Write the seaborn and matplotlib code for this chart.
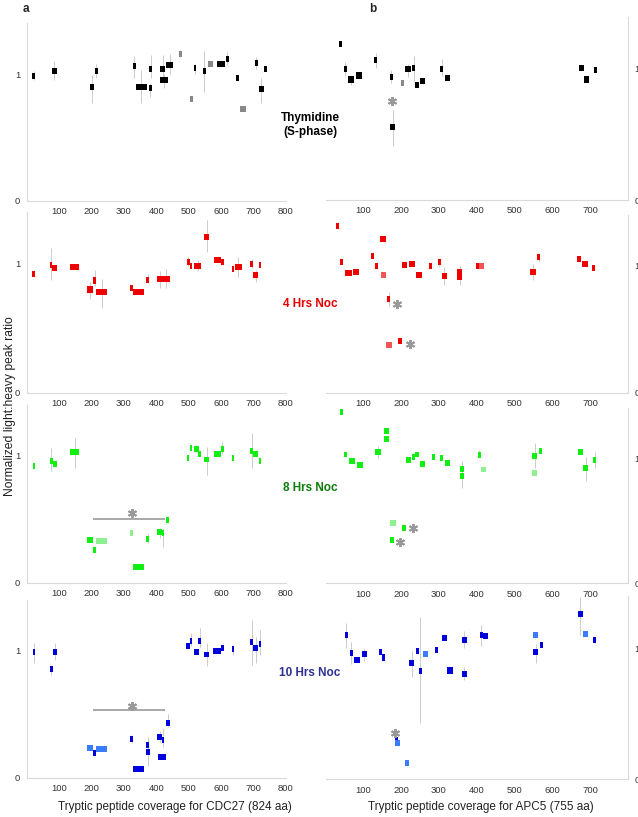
import pandas as pd
import seaborn as sns
import matplotlib.pyplot as plt

sns.set_theme(style="white")
plt.rcParams["font.family"] = ["Liberation Sans", "DejaVu Sans"]

# peptides: (start, end, ratio, err_low, err_high, light)
cdc27_thy = [
    (18, 27, 0.984, 0.95, 1.02, 0), (77, 95, 1.02, 0.95, 1.10, 0), (194, 209, 0.90, 0.77, 0.99, 0),
    (211, 220, 1.02, 0.97, 1.08, 0), (327, 336, 1.06, 0.97, 1.14, 0), (337, 370, 0.90, 0.77, 1.03, 0),
    (378, 387, 1.04, 0.97, 1.15, 0), (376, 388, 0.89, 0.82, 0.93, 0), (411, 428, 1.04, 0.94, 1.15, 0),
    (412, 437, 0.95, 0.89, 1.00, 0), (430, 452, 1.07, 1.00, 1.16, 0), (469, 478, 1.16, 1.13, 1.19, 1),
    (515, 523, 1.05, 1.00, 1.08, 0), (544, 552, 1.02, 0.86, 1.18, 0), (505, 514, 0.80, None, None, 1),
    (560, 576, 1.08, None, None, 1), (588, 613, 1.08, None, None, 0), (615, 623, 1.115, 1.07, 1.17, 0),
    (646, 654, 0.966, None, None, 0), (658, 678, 0.727, None, None, 1), (705, 713, 1.085, 1.04, 1.13, 0),
    (716, 731, 0.88, 0.77, 0.97, 0), (732, 740, 1.04, None, None, 0),
]
apc5_thy = [
    (36, 44, 1.19, None, None, 0), (48, 56, 1.00, 0.95, 1.05, 0), (59, 76, 0.92, 0.88, 0.95, 0),
    (81, 97, 0.95, None, None, 0), (129, 137, 1.07, 1.01, 1.12, 0), (170, 178, 0.94, 0.89, 0.99, 0),
    (211, 225, 1.00, 0.94, 1.04, 0), (230, 238, 1.01, 0.90, 1.10, 0), (200, 208, 0.895, None, None, 1),
    (238, 246, 0.88, None, None, 0), (249, 263, 0.91, None, None, 0), (304, 312, 1.00, 0.95, 1.08, 0),
    (315, 330, 0.93, None, None, 0), (170, 185, 0.556, 0.41, 0.69, 0), (670, 683, 1.01, None, None, 0),
    (683, 698, 0.92, None, None, 0), (711, 719, 0.99, None, None, 0),
]
cdc27_4h = [
    (18, 27, 0.918, None, None, 0), (71, 79, 0.99, 0.87, 1.12, 0), (79, 94, 0.966, None, None, 0),
    (134, 163, 0.977, None, None, 0), (187, 204, 0.80, 0.73, 0.86, 0), (206, 214, 0.87, 0.83, 0.95, 0),
    (215, 247, 0.78, 0.66, 0.88, 0), (320, 328, 0.81, None, None, 0), (329, 363, 0.78, None, None, 0),
    (369, 377, 0.876, 0.85, 0.92, 0), (403, 420, 0.88, 0.81, 0.94, 0), (420, 442, 0.88, 0.81, 0.96, 0),
    (495, 503, 1.01, 0.98, 1.05, 0), (503, 511, 0.98, None, None, 0), (516, 539, 0.98, 0.94, 1.03, 0),
    (548, 563, 1.21, 1.09, 1.34, 0), (577, 601, 1.03, None, None, 0), (600, 608, 1.01, None, None, 0),
    (633, 641, 0.96, None, None, 0), (643, 664, 0.974, 0.90, 1.05, 0), (690, 698, 1.00, 0.97, 1.04, 0),
    (699, 714, 0.91, 0.86, 0.95, 0), (716, 724, 0.99, None, None, 0),
]
apc5_4h = [
    (28, 36, 1.316, None, None, 0), (39, 47, 1.03, None, None, 0), (52, 70, 0.94, None, None, 0),
    (73, 89, 0.95, None, None, 0), (121, 129, 1.08, None, None, 0), (130, 138, 0.995, None, None, 0),
    (145, 160, 1.21, None, None, 0), (147, 161, 0.93, None, None, 1), (163, 171, 0.734, 0.68, 0.79, 0),
    (203, 216, 1.005, None, None, 0), (222, 238, 1.01, None, None, 0), (240, 256, 0.93, None, None, 0),
    (274, 282, 1.00, None, None, 0), (297, 305, 1.03, 1.00, 1.06, 0), (308, 321, 0.92, 0.85, 0.99, 0),
    (349, 360, 0.95, 0.85, 1.00, 0), (349, 360, 0.91, None, None, 0), (397, 405, 1.00, None, None, 0),
    (405, 420, 0.995, None, None, 1), (542, 556, 0.95, 0.89, 1.01, 0), (560, 568, 1.07, 1.03, 1.10, 0),
    (665, 677, 1.05, None, None, 0), (679, 693, 1.01, None, None, 0), (706, 714, 0.98, None, None, 0),
    (191, 201, 0.41, None, None, 0), (161, 177, 0.376, None, None, 1),
]
cdc27_8h = [
    (19, 27, 0.92, None, None, 0), (72, 80, 0.96, 0.88, 1.06, 0), (82, 94, 0.937, None, None, 0),
    (134, 163, 1.03, 0.90, 1.14, 0), (187, 204, 0.337, None, None, 0), (206, 214, 0.255, None, None, 0),
    (215, 247, 0.326, None, None, 1), (320, 328, 0.39, None, None, 1), (329, 363, 0.126, None, None, 0),
    (369, 377, 0.345, 0.31, 0.38, 0), (402, 418, 0.40, 0.35, 0.43, 0), (417, 425, 0.39, 0.28, 0.43, 0),
    (430, 438, 0.49, None, None, 0), (494, 502, 0.98, None, None, 0), (503, 511, 1.06, None, None, 0),
    (516, 531, 1.05, None, None, 0), (530, 538, 1.01, None, None, 0), (548, 563, 0.97, 0.85, 1.07, 0),
    (577, 598, 1.016, None, None, 0), (600, 608, 1.055, 1.01, 1.11, 0), (633, 641, 0.984, None, None, 0),
    (690, 698, 1.04, 0.90, 1.18, 0), (699, 714, 1.016, None, None, 0), (716, 724, 0.96, None, None, 0),
]
apc5_8h = [
    (39, 47, 1.373, None, None, 0), (50, 58, 1.03, None, None, 0), (62, 78, 0.976, None, None, 0),
    (84, 98, 0.947, None, None, 0), (130, 147, 1.05, 1.00, 1.10, 0), (155, 169, 1.219, None, None, 0),
    (155, 169, 1.155, None, None, 0), (212, 226, 0.984, None, None, 0), (230, 238, 1.008, None, None, 0),
    (238, 246, 1.03, None, None, 0), (249, 263, 0.952, None, None, 0), (281, 289, 1.013, None, None, 0),
    (304, 312, 1.003, None, None, 0), (315, 330, 0.965, None, None, 0), (355, 367, 0.915, 0.76, 0.98, 0),
    (355, 367, 0.856, None, None, 0), (403, 411, 1.024, 1.00, 1.07, 0), (411, 425, 0.91, None, None, 1),
    (547, 560, 1.02, 0.92, 1.12, 0), (547, 560, 0.883, None, None, 1), (564, 572, 1.06, None, None, 0),
    (668, 680, 1.05, None, None, 0), (681, 695, 0.925, 0.82, 1.01, 0), (708, 716, 0.987, 0.92, 1.05, 0),
    (171, 187, 0.48, None, None, 1), (201, 212, 0.445, None, None, 0), (170, 180, 0.347, None, None, 0),
]
cdc27_10h = [
    (19, 27, 0.99, 0.90, 1.06, 0), (72, 80, 0.858, 0.81, 0.89, 0), (82, 94, 0.99, 0.93, 1.06, 0),
    (187, 205, 0.237, None, None, 1), (206, 214, 0.195, None, None, 0), (215, 247, 0.224, None, None, 1),
    (320, 328, 0.305, 0.27, 0.34, 0), (329, 363, 0.068, None, None, 0), (369, 377, 0.258, 0.22, 0.32, 0),
    (367, 380, 0.20, 0.09, 0.245, 0), (402, 418, 0.324, 0.28, 0.365, 0), (404, 429, 0.166, None, None, 0),
    (417, 425, 0.297, 0.24, 0.39, 0), (429, 442, 0.434, 0.40, 0.50, 0), (492, 505, 1.04, None, None, 0),
    (503, 511, 1.08, 1.04, 1.14, 0), (516, 531, 0.99, None, None, 0), (530, 538, 1.08, 1.02, 1.18, 0),
    (548, 563, 0.97, 0.88, 1.06, 0), (576, 600, 1.00, None, None, 0), (600, 608, 1.02, None, None, 0),
    (633, 641, 1.01, 0.97, 1.04, 0), (690, 698, 1.07, 0.89, 1.24, 0), (699, 714, 1.02, 0.90, 1.11, 0),
    (716, 724, 1.055, 0.97, 1.16, 0),
]
apc5_10h = [
    (51, 59, 1.10, 1.00, 1.19, 0), (64, 72, 0.965, 0.88, 1.05, 0), (75, 90, 0.913, None, None, 0),
    (96, 110, 0.957, 0.90, 1.00, 0), (141, 149, 0.97, None, None, 0), (149, 157, 0.93, None, None, 0),
    (222, 234, 0.886, 0.78, 0.98, 0), (240, 248, 0.98, None, None, 0), (257, 272, 0.957, None, None, 1),
    (247, 255, 0.827, 0.43, 1.24, 0), (289, 297, 0.99, None, None, 0), (308, 321, 1.08, None, None, 0),
    (322, 337, 0.83, None, None, 0), (361, 373, 1.065, 1.00, 1.13, 0), (361, 373, 0.807, 0.76, 0.86, 0),
    (408, 416, 1.10, 1.02, 1.18, 0), (417, 430, 1.092, None, None, 0), (548, 563, 1.10, None, None, 1),
    (550, 563, 0.972, 0.89, 1.03, 0), (567, 575, 1.023, None, None, 0), (668, 680, 1.262, 1.10, 1.39, 0),
    (681, 695, 1.112, None, None, 1), (708, 716, 1.064, 1.04, 1.09, 0), (183, 191, 0.30, None, None, 0),
    (183, 197, 0.28, None, None, 1), (209, 220, 0.122, None, None, 1),
]

# asterisks (x, y) per panel
stars_cdc27 = [[], [], [(325, 0.546)], [(325, 0.568)]]
stars_apc5 = [[(176, 0.756)], [(188, 0.70), (224, 0.384)], [(231, 0.445), (198, 0.333)], [(184, 0.356)]]
# bracket lines (x0, x1, y)
brackets_cdc27 = [None, None, (205, 428, 0.50), (205, 428, 0.53)]

conditions = ["Thymidine\n(S-phase)", "4 Hrs Noc", "8 Hrs Noc", "10 Hrs Noc"]
label_colors = ["#000000", "#e60000", "#0a7d0a", "#2e3192"]
dark_colors = ["#000000", "#ee0000", "#11ee11", "#0000dd"]
light_colors = ["#888888", "#f25555", "#8ef08e", "#3b7bff"]

cdc27_panels = [cdc27_thy, cdc27_4h, cdc27_8h, cdc27_10h]
apc5_panels = [apc5_thy, apc5_4h, apc5_8h, apc5_10h]

W, H = 638, 817
fig = plt.figure(figsize=(W / 100, H / 100), dpi=100)


def add_ax(x0, x1, bottom, scale):
    top = bottom - 1.4 * scale
    return fig.add_axes([x0 / W, 1 - bottom / H, (x1 - x0) / W, (bottom - top) / H])


left_rows = [(201, 127), (392.7, 129), (582.7, 127), (777.7, 127)]
right_rows = [(200, 131), (392.7, 127), (583.3, 125), (779.3, 131)]

axis_grey = "#d9d9d9"


def draw_panel(ax, rows, i, side):
    df = pd.DataFrame(rows, columns=["start", "end", "ratio", "lo", "hi", "light"])
    df["mid"] = (df["start"] + df["end"]) / 2
    err = df.dropna(subset=["lo"])
    ax.vlines(err["mid"], err["lo"], err["hi"], color="#cccccc", lw=0.7, zorder=1)
    cols = [light_colors[i] if l else dark_colors[i] for l in df["light"]]
    ax.bar(x=df["start"], height=0.047, width=df["end"] - df["start"], bottom=df["ratio"] - 0.0235,
           align="edge", color=cols, linewidth=0, zorder=2)
    ax.set_xlim(0, 800)
    ax.set_ylim(0, 1.4)
    ax.set_yticks([0, 0.2, 0.4, 0.6, 0.8, 1.0, 1.2, 1.4])
    ax.set_yticklabels(["0", "", "", "", "", "1", "", ""])
    if side == "left":
        ax.set_xticks(range(100, 801, 100))
        sns.despine(ax=ax, top=True, right=True)
        ax.spines["left"].set_color(axis_grey)
    else:
        ax.set_xticks(range(100, 701, 100))
        ax.yaxis.tick_right()
        sns.despine(ax=ax, top=True, left=True, right=False)
        ax.spines["right"].set_color(axis_grey)
    ax.spines["bottom"].set_color(axis_grey)
    for s in ax.spines.values():
        s.set_linewidth(0.8)
    ax.tick_params(axis="both", length=2, width=0.6, color=axis_grey, labelsize=6.8,
                   labelcolor="#333333", pad=2.5)
    ax.patch.set_alpha(0)


for i in range(4):
    axl = add_ax(26.6, 286, *left_rows[i])
    draw_panel(axl, cdc27_panels[i], i, "left")
    for sx, sy in stars_cdc27[i]:
        axl.plot(sx, sy, marker=(6, 2, 0), ms=6.5, mew=1.4, color="#999999", zorder=3)
    if brackets_cdc27[i]:
        x0, x1, by = brackets_cdc27[i]
        axl.hlines(by, x0, x1, color="#999999", lw=1.2, zorder=3)

    axr = add_ax(325.5, 628, *right_rows[i])
    draw_panel(axr, apc5_panels[i], i, "right")
    for sx, sy in stars_apc5[i]:
        axr.plot(sx, sy, marker=(6, 2, 0), ms=6.5, mew=1.4, color="#999999", zorder=3)

# condition labels in the middle
label_y = [125, 304, 488, 673]
for i, cond in enumerate(conditions):
    fig.text(310 / W, 1 - label_y[i] / H, cond, ha="center", va="center", fontsize=8.5,
             fontweight="bold", color=label_colors[i], linespacing=1.15)

fig.text(26 / W, 1 - 9 / H, "a", ha="center", va="center", fontsize=8.5, fontweight="bold")
fig.text(373 / W, 1 - 9 / H, "b", ha="center", va="center", fontsize=8.5, fontweight="bold")
fig.text(10 / W, 1 - 406 / H, "Normalized light:heavy peak ratio", rotation=90,
         ha="center", va="center", fontsize=8.7, color="#222222")
fig.text(175 / W, 1 - 807 / H, "Tryptic peptide coverage for CDC27 (824 aa)",
         ha="center", va="center", fontsize=8.5, color="#222222")
fig.text(481 / W, 1 - 807 / H, "Tryptic peptide coverage for APC5 (755 aa)",
         ha="center", va="center", fontsize=8.5, color="#222222")

fig.savefig("out.png", dpi=100, facecolor="white")
